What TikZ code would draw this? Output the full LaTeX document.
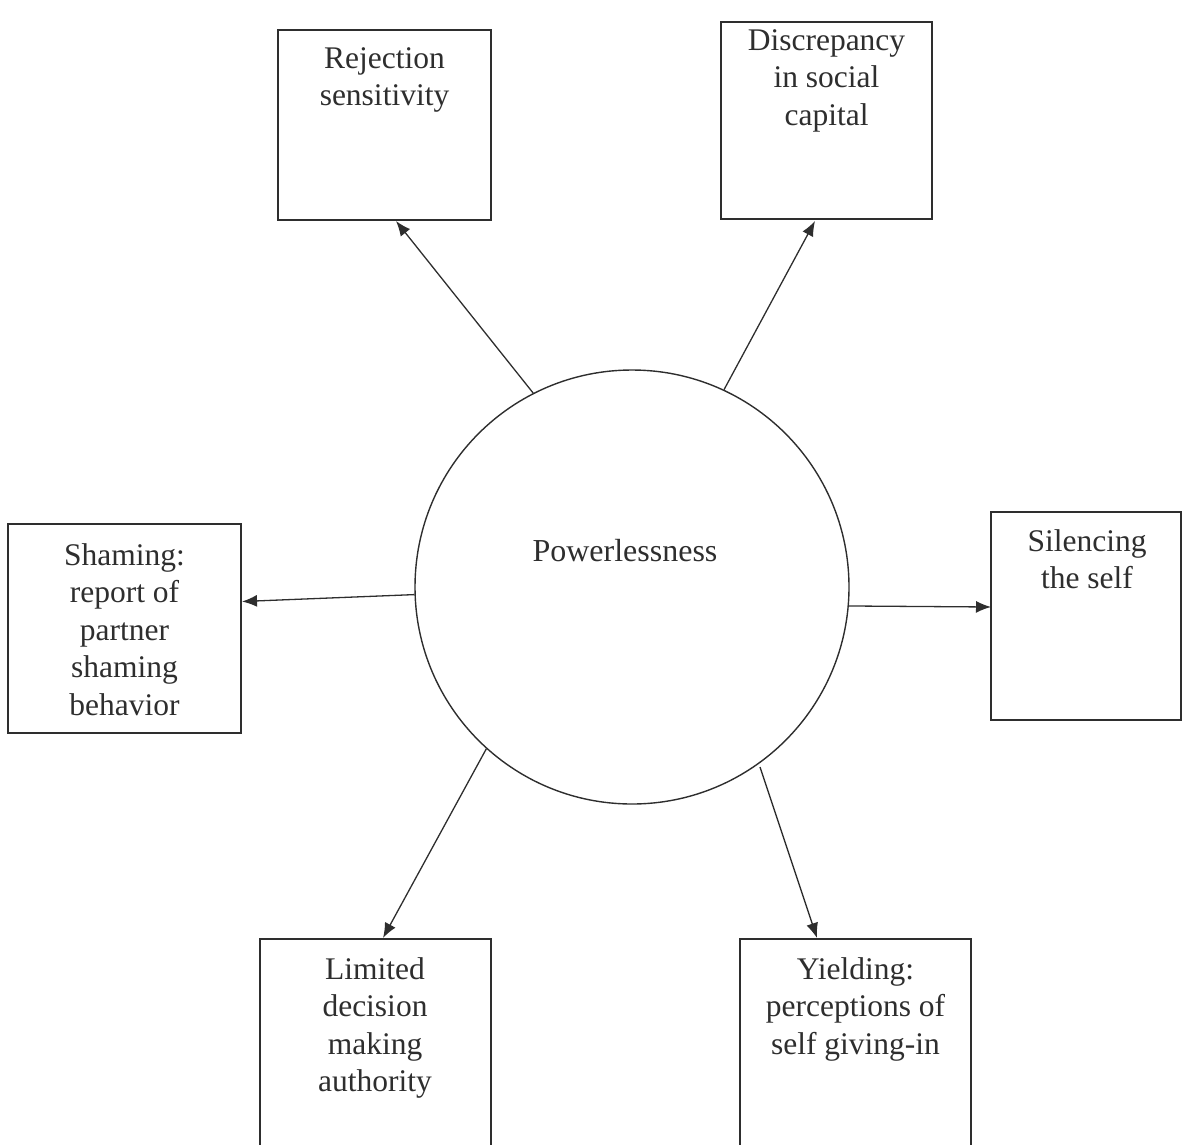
\documentclass[tikz,border=0pt]{standalone}
\usepackage{fontspec}
\setmainfont{Liberation Serif}
\usetikzlibrary{arrows.meta}
\definecolor{ink}{HTML}{2E2E2E}
\begin{document}
\begin{tikzpicture}[x=1pt,y=-1pt,
  boxshape/.style={draw=ink,line width=1.4pt,rectangle,inner sep=0pt},
  lbl/.style={font=\fontsize{31.5}{37.5}\selectfont,align=center,anchor=north,inner sep=0pt,text=ink},
  arr/.style={draw=ink,line width=1.3pt,-{Latex[length=15pt,width=12pt]}}]
\useasboundingbox (0,0) rectangle (1191,1144);
\clip (0,0) rectangle (1191,1144);
% boxes
\node[boxshape,minimum width=213pt,minimum height=190pt] (rej) at (384.5,125) {};
\node[boxshape,minimum width=211pt,minimum height=197pt] (dis) at (826.5,120.5) {};
\node[boxshape,minimum width=233pt,minimum height=209pt] (sha) at (124.5,628.5) {};
\node[boxshape,minimum width=190pt,minimum height=208pt] (sil) at (1086,616) {};
\node[boxshape,minimum width=231pt,minimum height=222pt] (lim) at (375.5,1050) {};
\node[boxshape,minimum width=231pt,minimum height=222pt] (yie) at (855.5,1050) {};
% circle
\node[draw=ink,line width=1.4pt,circle,minimum size=434pt,inner sep=0pt] (c) at (632,587) {};
\node[font=\fontsize{32}{38}\selectfont,text=ink,inner sep=0pt] (tc) at (625,551) {Powerlessness};
% labels
\node[lbl] (trej) at (384.5,47) {Rejection\\sensitivity};
\node[lbl] (tdis) at (826.5,29) {Discrepancy\\in social\\capital};
\node[lbl] (tsha) at (124.5,543) {Shaming:\\report of\\partner\\shaming\\behavior};
\node[lbl] (tsil) at (1087,529) {Silencing\\the self};
\node[lbl] (tlim) at (375,957) {Limited\\decision\\making\\authority};
\node[lbl] (tyie) at (855.5,957) {Yielding:\\perceptions of\\self giving-in};
% arrow ends
\coordinate (e1) at (396,221);
\coordinate (e2) at (815,221);
\coordinate (e3) at (242,601.5);
\coordinate (e4) at (991,607);
\coordinate (e5) at (383,938);
\coordinate (e6) at (817,938);
\coordinate (s6) at (760,767);
\draw[arr] (c.117.5) -- (e1);
\draw[arr] (c.65.9) -- (e2);
\draw[arr] (c.182.9) -- (e3);
\draw[arr] (c.-5.3) -- (e4);
\draw[arr] (c.228.6) -- (e5);
\draw[arr] (s6) -- (e6);
\end{tikzpicture}
\end{document}
